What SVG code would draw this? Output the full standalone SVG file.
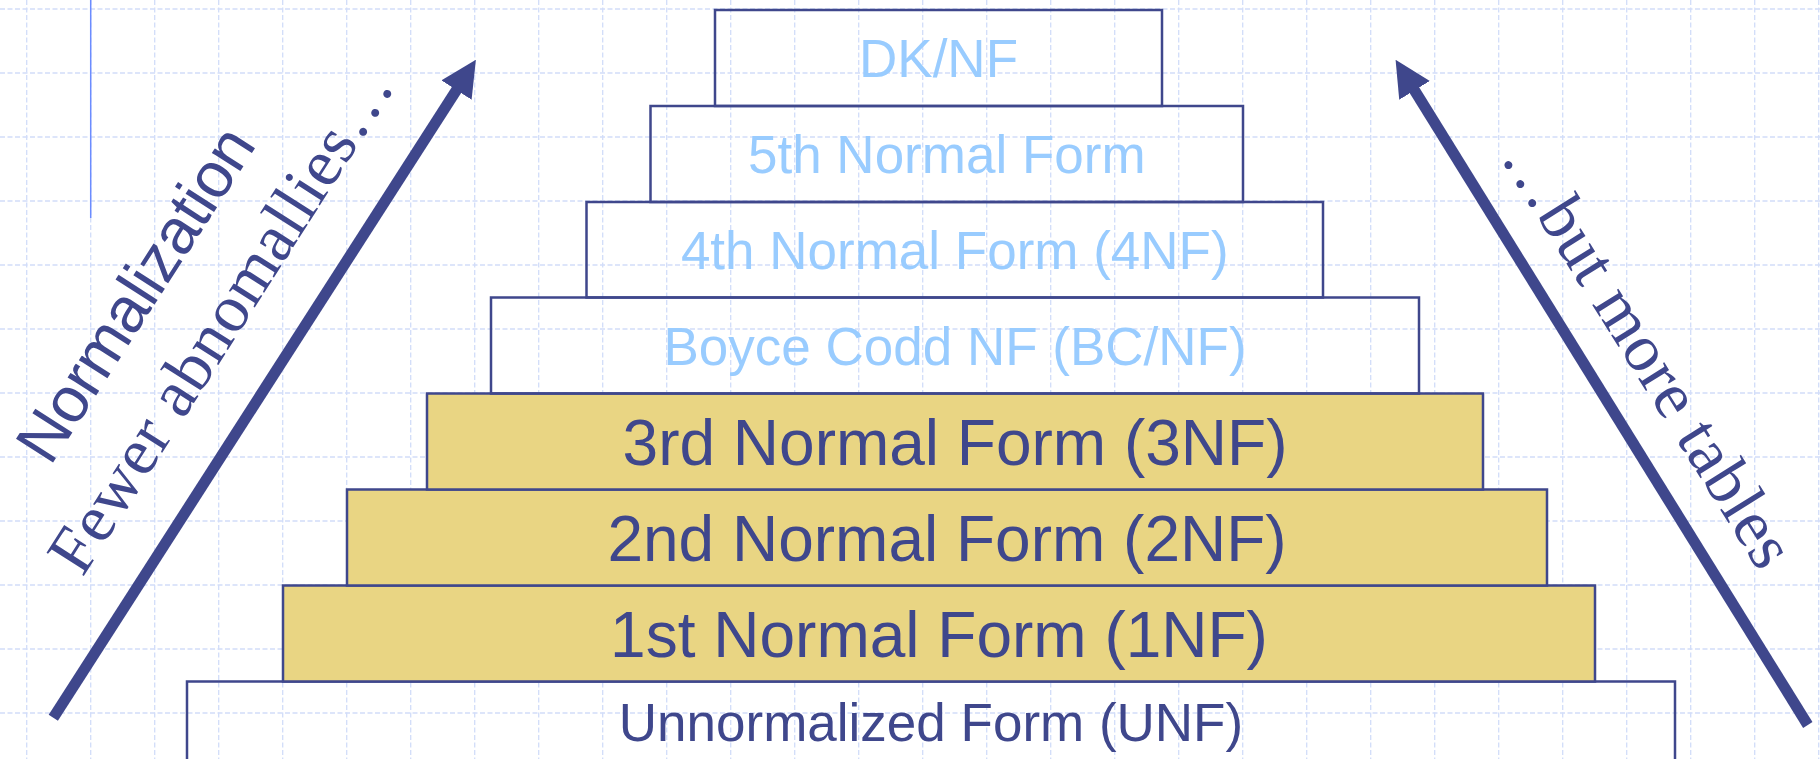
<svg xmlns="http://www.w3.org/2000/svg" width="1820" height="759" viewBox="0 0 1820 759">
<defs>
<style>
.grid line{stroke:#d2ddf9;stroke-width:1.3;stroke-dasharray:5 2.5}
.box{stroke:#3f478c;stroke-width:2.5}
.pale{fill:none}
.gold{fill:#e9d583}
.lt{font-family:"Liberation Sans",Arial,sans-serif;font-size:53px;fill:#99ccff;text-anchor:middle}
.dk{font-family:"Liberation Sans",Arial,sans-serif;font-size:64px;fill:#3f478c;text-anchor:middle}
.dks{font-family:"Liberation Sans",Arial,sans-serif;font-size:53px;fill:#3f478c;text-anchor:middle}
.shaft{stroke:#3f478c;stroke-width:11;fill:none}
.side{fill:#3f478c}
.sans{font-family:"Liberation Sans",Arial,sans-serif;font-size:64px}
.serif{font-family:"Liberation Serif","Times New Roman",serif;font-size:67px}
</style>
<marker id="head" markerUnits="userSpaceOnUse" markerWidth="36" markerHeight="36" viewBox="0 0 35 35" refX="1" refY="17.5" orient="auto">
<path d="M0,0 L35,17.5 L0,35 z" fill="#3f478c"/>
</marker>
</defs>
<rect width="1820" height="759" fill="#ffffff"/>
<g class="grid">
<line x1="0" y1="9" x2="1820" y2="9"/>
<line x1="0" y1="73" x2="1820" y2="73"/>
<line x1="0" y1="137" x2="1820" y2="137"/>
<line x1="0" y1="201" x2="1820" y2="201"/>
<line x1="0" y1="265" x2="1820" y2="265"/>
<line x1="0" y1="329" x2="1820" y2="329"/>
<line x1="0" y1="393" x2="1820" y2="393"/>
<line x1="0" y1="457" x2="1820" y2="457"/>
<line x1="0" y1="521" x2="1820" y2="521"/>
<line x1="0" y1="585" x2="1820" y2="585"/>
<line x1="0" y1="649" x2="1820" y2="649"/>
<line x1="0" y1="713" x2="1820" y2="713"/>
<line x1="26.7" y1="0" x2="26.7" y2="759"/>
<line x1="90.7" y1="0" x2="90.7" y2="759"/>
<line x1="154.7" y1="0" x2="154.7" y2="759"/>
<line x1="218.7" y1="0" x2="218.7" y2="759"/>
<line x1="282.7" y1="0" x2="282.7" y2="759"/>
<line x1="346.7" y1="0" x2="346.7" y2="759"/>
<line x1="410.7" y1="0" x2="410.7" y2="759"/>
<line x1="474.7" y1="0" x2="474.7" y2="759"/>
<line x1="538.7" y1="0" x2="538.7" y2="759"/>
<line x1="602.7" y1="0" x2="602.7" y2="759"/>
<line x1="666.7" y1="0" x2="666.7" y2="759"/>
<line x1="730.7" y1="0" x2="730.7" y2="759"/>
<line x1="794.7" y1="0" x2="794.7" y2="759"/>
<line x1="858.7" y1="0" x2="858.7" y2="759"/>
<line x1="922.7" y1="0" x2="922.7" y2="759"/>
<line x1="986.7" y1="0" x2="986.7" y2="759"/>
<line x1="1050.7" y1="0" x2="1050.7" y2="759"/>
<line x1="1114.7" y1="0" x2="1114.7" y2="759"/>
<line x1="1178.7" y1="0" x2="1178.7" y2="759"/>
<line x1="1242.7" y1="0" x2="1242.7" y2="759"/>
<line x1="1306.7" y1="0" x2="1306.7" y2="759"/>
<line x1="1370.7" y1="0" x2="1370.7" y2="759"/>
<line x1="1434.7" y1="0" x2="1434.7" y2="759"/>
<line x1="1498.7" y1="0" x2="1498.7" y2="759"/>
<line x1="1562.7" y1="0" x2="1562.7" y2="759"/>
<line x1="1626.7" y1="0" x2="1626.7" y2="759"/>
<line x1="1690.7" y1="0" x2="1690.7" y2="759"/>
<line x1="1754.7" y1="0" x2="1754.7" y2="759"/>
<line x1="1818.7" y1="0" x2="1818.7" y2="759"/>
</g>
<line x1="90.7" y1="0" x2="90.7" y2="218" stroke="#6b8cff" stroke-width="1.5"/>
<g id="unf">
<rect class="box pale" x="187" y="681.5" width="1488" height="100"/>
<text class="dks" x="931" y="741">Unnormalized Form (UNF)</text>
</g>
<g id="nf1">
<rect class="box gold" x="283" y="585.5" width="1312" height="96"/>
<text class="dk" x="939" y="656.5">1st Normal Form (1NF)</text>
</g>
<g id="nf2">
<rect class="box gold" x="347" y="489.5" width="1200" height="96"/>
<text class="dk" x="947" y="560.5">2nd Normal Form (2NF)</text>
</g>
<g id="nf3">
<rect class="box gold" x="427" y="393.5" width="1056" height="96"/>
<text class="dk" x="955" y="465">3rd Normal Form (3NF)</text>
</g>
<g id="bcnf">
<rect class="box pale" x="491" y="297.5" width="928" height="96"/>
<text class="lt" x="955" y="364.5">Boyce Codd NF (BC/NF)</text>
</g>
<g id="nf4">
<rect class="box pale" x="586.5" y="202" width="736.5" height="95.5"/>
<text class="lt" x="954.75" y="269">4th Normal Form (4NF)</text>
</g>
<g id="nf5">
<rect class="box pale" x="650.5" y="106" width="592.5" height="96"/>
<text class="lt" x="946.75" y="173.3">5th Normal Form</text>
</g>
<g id="dknf">
<rect class="box pale" x="715" y="10" width="447" height="96"/>
<text class="lt" x="938.5" y="77.3">DK/NF</text>
</g>
<g id="connectors">
<line class="shaft" x1="53.3" y1="717.8" x2="457" y2="89.2" marker-end="url(#head)"/>
<line class="shaft" x1="1807.8" y1="725" x2="1414" y2="89.5" marker-end="url(#head)"/>
</g>
<g id="labels" class="side">
<text class="sans" transform="translate(50.3,467) rotate(-57.3)" textLength="383">Normalization</text>
<text class="serif" transform="translate(82.5,578) rotate(-57.5)" textLength="583">Fewer abnomallies…</text>
<text class="serif" transform="translate(1500,157.3) rotate(58)" textLength="490">…but more tables</text>
</g>
</svg>
